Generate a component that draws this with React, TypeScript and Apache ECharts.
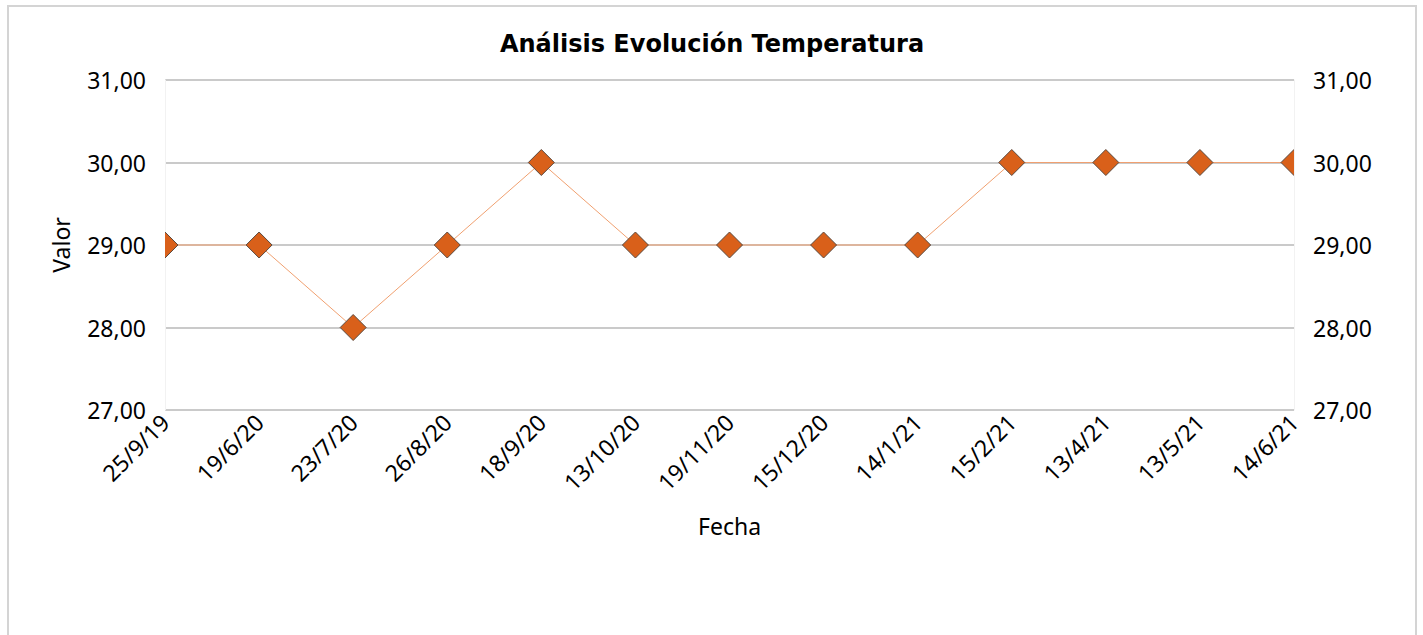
import React, { useEffect, useRef } from "react";
import * as echarts from "echarts";

const categories = [
  "25/9/19", "19/6/20", "23/7/20", "26/8/20", "18/9/20", "13/10/20", "19/11/20",
  "15/12/20", "14/1/21", "15/2/21", "13/4/21", "13/5/21", "14/6/21",
];
const temperatures = [29, 29, 28, 29, 30, 29, 29, 29, 29, 30, 30, 30, 30];
const yMin = 27;
const yMax = 31;
const yStep = 1;

const LABEL_FONT = "'Noto Sans', 'Liberation Sans', sans-serif";
const TITLE_FONT = "'DejaVu Sans', 'Noto Sans', sans-serif";
const fmt = (v: number) => v.toFixed(2).replace(".", ",");

export default function App() {
  const ref = useRef<HTMLDivElement>(null);
  useEffect(() => {
    if (!ref.current) return;
    const chart = echarts.init(ref.current, null, { renderer: "svg" });
    const half = 13;
    chart.setOption({
      animation: false,
      backgroundColor: "#ffffff",
      title: {
        text: "Análisis Evolución Temperatura",
        left: "center",
        top: 20,
        textStyle: { fontFamily: TITLE_FONT, fontWeight: "bold", fontSize: 24, color: "#000" },
      },
      grid: { left: 156, top: 73, width: 1129, height: 330, containLabel: false },
      xAxis: {
        type: "category",
        data: categories,
        boundaryGap: false,
        name: "Fecha",
        nameLocation: "middle",
        nameGap: 104,
        nameTextStyle: { fontFamily: LABEL_FONT, fontSize: 23, color: "#000" },
        axisLine: { show: false },
        axisTick: { show: false },
        axisLabel: {
          rotate: 45,
          margin: 8,
          interval: 0,
          fontFamily: LABEL_FONT,
          fontSize: 23,
          color: "#000",
        },
        splitLine: { show: false },
      },
      yAxis: [
        {
          type: "value",
          min: yMin,
          max: yMax,
          interval: yStep,
          position: "left",
          name: "Valor",
          nameLocation: "middle",
          nameGap: 93,
          nameTextStyle: { fontFamily: LABEL_FONT, fontSize: 23, color: "#000" },
          axisLine: { show: true, lineStyle: { color: "#f2f2f2", width: 1 } },
          axisTick: { show: false },
          axisLabel: { margin: 19, fontFamily: LABEL_FONT, fontSize: 23, color: "#000", formatter: fmt },
          splitLine: { show: true, lineStyle: { color: "#cacaca", width: 2 } },
        },
        {
          type: "value",
          min: yMin,
          max: yMax,
          interval: yStep,
          position: "right",
          axisLine: { show: true, lineStyle: { color: "#f2f2f2", width: 1 } },
          axisTick: { show: false },
          axisLabel: { margin: 19, fontFamily: LABEL_FONT, fontSize: 23, color: "#000", formatter: fmt },
          splitLine: { show: false },
        },
      ],
      series: [
        {
          type: "line",
          data: temperatures,
          symbol: "none",
          lineStyle: { color: "#f0a070", width: 1 },
          z: 2,
        },
        {
          type: "custom",
          clip: true,
          z: 3,
          data: temperatures.map((v, i) => [i, v]),
          renderItem: (params: any, api: any) => {
            const p = api.coord([api.value(0), api.value(1)]);
            return {
              type: "polygon",
              shape: {
                points: [
                  [p[0], p[1] - half],
                  [p[0] + half, p[1]],
                  [p[0], p[1] + half],
                  [p[0] - half, p[1]],
                ],
              },
              style: { fill: "#d9601a", stroke: "#5a4a40", lineWidth: 1 },
            };
          },
        },
      ],
    });
    return () => chart.dispose();
  }, []);
  return (
    <div
      style={{
        position: "absolute",
        left: 7,
        top: 5,
        width: 1410,
        height: 700,
        boxSizing: "border-box",
        border: "2px solid #d4d4d4",
        background: "#fff",
      }}
    >
      <div ref={ref} style={{ width: "100%", height: "100%" }} />
    </div>
  );
}
